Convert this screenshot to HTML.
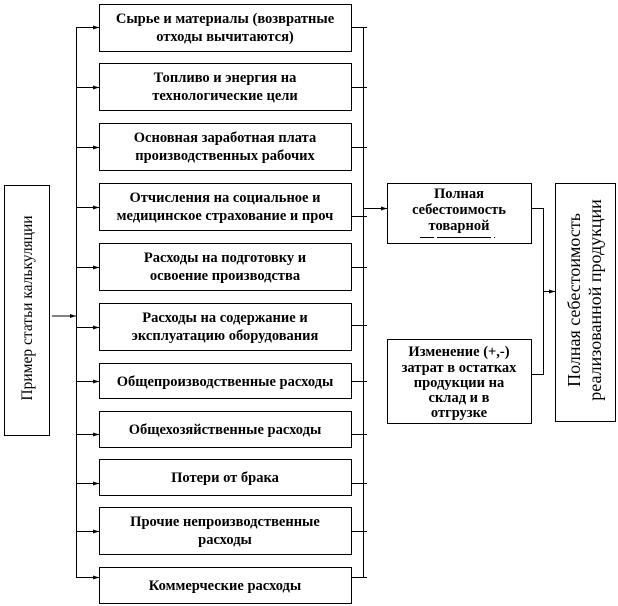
<!DOCTYPE html>
<html><head><meta charset="utf-8"><style>
html,body{margin:0;padding:0;background:#fff;}
svg{display:block;}
text{font-family:"Liberation Serif",serif;fill:#000;}
.b{font-weight:bold;font-size:14.5px;}
</style></head><body>
<svg width="618" height="606" viewBox="0 0 618 606" xmlns="http://www.w3.org/2000/svg">
<defs><marker id="a" markerWidth="6" markerHeight="6" refX="6" refY="3" orient="auto" markerUnits="userSpaceOnUse"><path d="M0,1 L6,3 L0,5 z" fill="#000"/></marker></defs>
<g fill="none" stroke="#000" stroke-width="1">
<rect x="4.5" y="185.5" width="45" height="250"/>
<line x1="52" y1="316" x2="76" y2="316" marker-end="url(#a)"/>
<line x1="76.5" y1="27" x2="76.5" y2="578"/>
<line x1="363.5" y1="27" x2="363.5" y2="578"/>
<rect x="99.5" y="4.5" width="252" height="47"/>
<rect x="99.5" y="63.5" width="252" height="47"/>
<rect x="99.5" y="123.5" width="252" height="47"/>
<rect x="99.5" y="183.5" width="252" height="47"/>
<rect x="99.5" y="243.5" width="252" height="47"/>
<rect x="99.5" y="303.5" width="252" height="47"/>
<rect x="99.5" y="363.5" width="252" height="35"/>
<rect x="99.5" y="411.5" width="252" height="36"/>
<rect x="99.5" y="459.5" width="252" height="36"/>
<rect x="99.5" y="507.5" width="252" height="47"/>
<rect x="99.5" y="567.5" width="252" height="36"/>
<line x1="76" y1="27.5" x2="99" y2="27.5" marker-end="url(#a)"/>
<line x1="76" y1="87.5" x2="99" y2="87.5" marker-end="url(#a)"/>
<line x1="76" y1="147.5" x2="99" y2="147.5" marker-end="url(#a)"/>
<line x1="76" y1="207.5" x2="99" y2="207.5" marker-end="url(#a)"/>
<line x1="76" y1="267.5" x2="99" y2="267.5" marker-end="url(#a)"/>
<line x1="76" y1="327.5" x2="99" y2="327.5" marker-end="url(#a)"/>
<line x1="76" y1="381.5" x2="99" y2="381.5" marker-end="url(#a)"/>
<line x1="76" y1="434.5" x2="99" y2="434.5" marker-end="url(#a)"/>
<line x1="76" y1="483.5" x2="99" y2="483.5" marker-end="url(#a)"/>
<line x1="76" y1="531.5" x2="99" y2="531.5" marker-end="url(#a)"/>
<line x1="76" y1="577.5" x2="99" y2="577.5" marker-end="url(#a)"/>
<line x1="351" y1="27.5" x2="367" y2="27.5"/>
<line x1="351" y1="87.5" x2="367" y2="87.5"/>
<line x1="351" y1="147.5" x2="367" y2="147.5"/>
<line x1="351" y1="216.5" x2="367" y2="216.5"/>
<line x1="351" y1="267.5" x2="367" y2="267.5"/>
<line x1="351" y1="325.5" x2="367" y2="325.5"/>
<line x1="351" y1="381.5" x2="367" y2="381.5"/>
<line x1="351" y1="434.5" x2="367" y2="434.5"/>
<line x1="351" y1="483.5" x2="367" y2="483.5"/>
<line x1="351" y1="531.5" x2="367" y2="531.5"/>
<line x1="351" y1="577.5" x2="367" y2="577.5"/>
<line x1="363" y1="208.5" x2="387" y2="208.5" marker-end="url(#a)"/>
<rect x="387.5" y="183.5" width="144" height="60"/>
<rect x="387.5" y="339.5" width="144" height="84"/>
<line x1="531" y1="208.5" x2="544" y2="208.5"/>
<line x1="531" y1="374.5" x2="544" y2="374.5"/>
<line x1="543.5" y1="208" x2="543.5" y2="375"/>
<line x1="543" y1="291.5" x2="555" y2="291.5" marker-end="url(#a)"/>
<rect x="555.5" y="183.5" width="60" height="238"/>
<line x1="420" y1="237.5" x2="495" y2="237.5" stroke-dasharray="14,3,40,0"/>
</g>
<g class="b" text-anchor="middle">
<text x="225" y="23">Сырье и материалы (возвратные</text>
<text x="225" y="41">отходы вычитаются)</text>
<text x="225" y="82">Топливо и энергия на</text>
<text x="225" y="100">технологические цели</text>
<text x="225" y="142">Основная заработная плата</text>
<text x="225" y="160">производственных рабочих</text>
<text x="225" y="202">Отчисления на социальное и</text>
<text x="225" y="220">медицинское страхование и проч</text>
<text x="225" y="262">Расходы на подготовку и</text>
<text x="225" y="280">освоение производства</text>
<text x="225" y="322">Расходы на содержание и</text>
<text x="225" y="340">эксплуатацию оборудования</text>
<text x="225" y="386">Общепроизводственные расходы</text>
<text x="225" y="434">Общехозяйственные расходы</text>
<text x="225" y="482">Потери от брака</text>
<text x="225" y="526">Прочие непроизводственные</text>
<text x="225" y="544">расходы</text>
<text x="225" y="590">Коммерческие расходы</text>
<text x="459" y="198">Полная</text>
<text x="459" y="214">себестоимость</text>
<text x="459" y="230">товарной</text>
<text x="459" y="356">Изменение (+,-)</text>
<text x="459" y="372">затрат в остатках</text>
<text x="459" y="387">продукции на</text>
<text x="459" y="402">склад и в</text>
<text x="459" y="417">отгрузке</text>
</g>
<text transform="translate(32,308) rotate(-90)" text-anchor="middle" font-size="15.5">Пример статьи калькуляции</text>
<text transform="translate(580,300) rotate(-90)" text-anchor="middle" font-size="18">Полная себестоимость</text>
<text transform="translate(601,300) rotate(-90)" text-anchor="middle" font-size="18">реализованной продукции</text>
</svg>
</body></html>
